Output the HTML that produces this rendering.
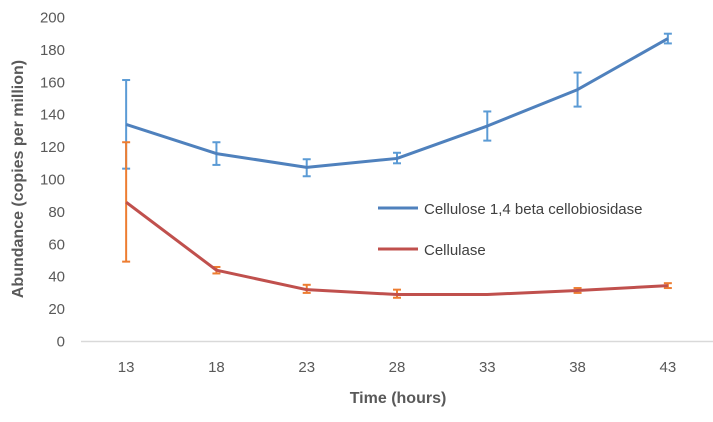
<!DOCTYPE html>
<html><head><meta charset="utf-8"><style>
body{margin:0;background:#fff;}
svg{display:block;font-family:"Liberation Sans",sans-serif;}
</style></head><body>
<svg id="chart" width="713" height="422">
<g id="axes"></g><g id="series"></g>
<text x="398" y="403" text-anchor="middle" font-size="16" font-weight="bold" fill="#595959">Time (hours)</text>
<text transform="translate(23,179) rotate(-90)" text-anchor="middle" font-size="16" font-weight="bold" fill="#595959">Abundance (copies per million)</text>
<g>
<line x1="378" y1="208" x2="418" y2="208" stroke="#4f81bd" stroke-width="3"/>
<text x="424" y="214" font-size="15" fill="#404040">Cellulose 1,4 beta cellobiosidase</text>
<line x1="378" y1="249" x2="418" y2="249" stroke="#c0504d" stroke-width="3"/>
<text x="424" y="255" font-size="15" fill="#404040">Cellulase</text>
</g>
</svg>
<script>
const categories=[13,18,23,28,33,38,43];
const yTicks=[0,20,40,60,80,100,120,140,160,180,200];
const blueValues=[134,116,107.5,113,133,155.5,187];
const blueErrLow=[106.7,109,102,110,124,145,184];
const blueErrHigh=[161.4,123,112.5,116.5,142,166,190];
const redValues=[86,44,32,29,29,31.5,34.5];
const redErrLow=[49.3,42,30,27,29,30,33];
const redErrHigh=[123,46,35,32,29,33,36];
const NS="http://www.w3.org/2000/svg";
const x0=81,x1=713,yBase=341.5,pxPer=1.62;
const step=(x1-x0)/categories.length;
function xs(i){return x0+step*(i+0.5);}
function ys(v){return yBase-v*pxPer;}
function mk(tag,attrs,parent){const e=document.createElementNS(NS,tag);for(const k in attrs)e.setAttribute(k,attrs[k]);parent.appendChild(e);return e;}
const axes=document.getElementById('axes'),ser=document.getElementById('series');
const ax=mk('line',{x1:x0,x2:x1,y1:yBase,y2:yBase,stroke:'#d9d9d9','stroke-width':1.5},axes);


yTicks.forEach(t=>{const tx=mk('text',{x:65,y:ys(t)+5,'text-anchor':'end','font-size':15,fill:'#595959'},axes);tx.textContent=t;

});
categories.forEach((c,i)=>{const tx=mk('text',{x:xs(i),y:372,'text-anchor':'middle','font-size':15,fill:'#595959'},axes);tx.textContent=c;

});
function drawErr(lo,hi,color,name){lo.forEach((l,i)=>{const h=hi[i];if(h-l<0.5)return;const g=mk('g',{stroke:color,'stroke-width':2},ser);


mk('line',{x1:xs(i),x2:xs(i),y1:ys(l),y2:ys(h)},g);mk('line',{x1:xs(i)-4,x2:xs(i)+4,y1:ys(l),y2:ys(l)},g);mk('line',{x1:xs(i)-4,x2:xs(i)+4,y1:ys(h),y2:ys(h)},g);});}
function drawLine(vals,color,name){const p=mk('polyline',{points:vals.map((v,i)=>xs(i)+','+ys(v)).join(' '),fill:'none',stroke:color,'stroke-width':3,'stroke-linejoin':'round'},ser);

}
drawErr(blueErrLow,blueErrHigh,'#5b9bd5','cellobiosidase-error-bar');
drawErr(redErrLow,redErrHigh,'#ed7d31','cellulase-error-bar');
drawLine(blueValues,'#4f81bd','cellobiosidase-line');
drawLine(redValues,'#c0504d','cellulase-line');
</script>
</body></html>
